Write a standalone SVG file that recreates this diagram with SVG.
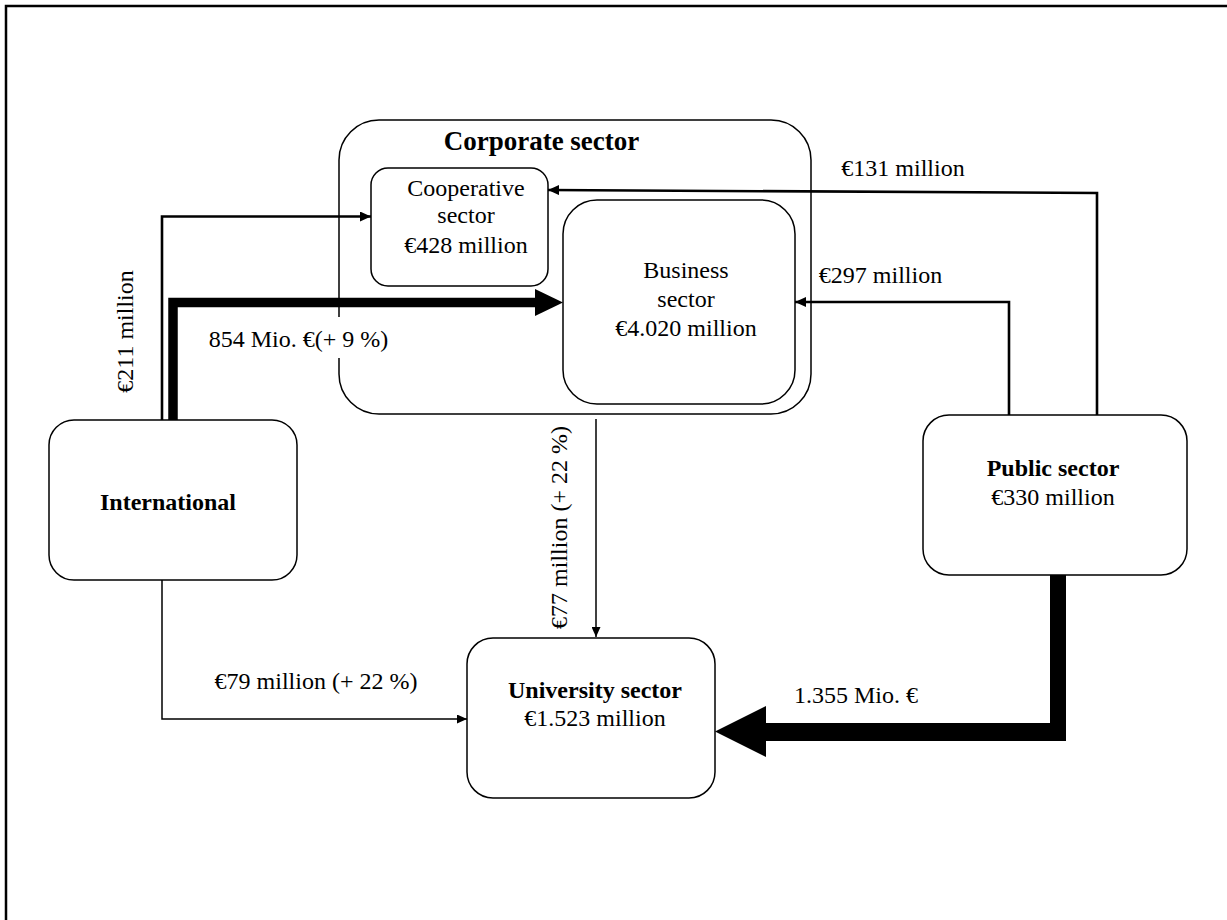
<svg xmlns="http://www.w3.org/2000/svg" width="1227" height="920" viewBox="0 0 1227 920">
<style>
.box{fill:#fff;stroke:#000;stroke-width:1.5}
.t{font-family:"Liberation Serif","Times New Roman",serif;font-size:24px;fill:#000}
.b{font-weight:bold}
.mid{text-anchor:middle}
.thin{fill:none;stroke:#000;stroke-width:1.5}
.med{fill:none;stroke:#000;stroke-width:2.6}
</style>
<defs>
<marker id="ahS" viewBox="0 0 10 10" refX="10" refY="5" markerWidth="10" markerHeight="9" markerUnits="userSpaceOnUse" orient="auto" preserveAspectRatio="none"><path d="M0,0 L10,5 L0,10 z" fill="#000"/></marker>
<marker id="ahM" viewBox="0 0 10 10" refX="10" refY="5" markerWidth="11" markerHeight="10" markerUnits="userSpaceOnUse" orient="auto" preserveAspectRatio="none"><path d="M0,0 L10,5 L0,10 z" fill="#000"/></marker>
</defs>
<rect x="0" y="0" width="1227" height="920" fill="#fff"/>
<rect x="6" y="6" width="1300" height="1000" fill="none" stroke="#000" stroke-width="2.5"/>

<g id="corporate">
<rect class="box" x="339" y="120" width="472" height="294" rx="40"/>
<text class="t b mid" x="541.5" y="150" style="font-size:27px">Corporate sector</text>
</g>
<g id="cooperative">
<rect class="box" x="371" y="168" width="177" height="118" rx="17"/>
<text class="t mid" x="466" y="196">Cooperative</text>
<text class="t mid" x="466" y="223">sector</text>
<text class="t mid" x="466" y="253">€428 million</text>
</g>
<g id="business">
<rect class="box" x="563" y="200" width="232" height="204" rx="34"/>
<text class="t mid" x="686" y="278">Business</text>
<text class="t mid" x="686" y="307">sector</text>
<text class="t mid" x="686" y="336">€4.020 million</text>
</g>
<g id="international">
<rect class="box" x="49" y="420" width="248" height="160" rx="25"/>
<text class="t b mid" x="168" y="510">International</text>
</g>
<g id="public">
<rect class="box" x="923" y="415" width="264" height="160" rx="26"/>
<text class="t b mid" x="1053" y="476">Public sector</text>
<text class="t mid" x="1053" y="505">€330 million</text>
</g>
<g id="university">
<rect class="box" x="467" y="638" width="248" height="160" rx="26"/>
<text class="t b mid" x="595" y="698">University sector</text>
<text class="t mid" x="595" y="726">€1.523 million</text>
</g>

<g id="connectors">
<path class="med" d="M162,420 V216.5 H371" marker-end="url(#ahM)"/>
<text class="t mid" transform="translate(133,331.5) rotate(-90)" x="0" y="0">€211 million</text>

<path d="M173,420 V302.5 H536" fill="none" stroke="#000" stroke-width="9.5"/>
<polygon points="535,289 563,302.5 535,316" fill="#000"/>
<rect x="200" y="317" width="196" height="41" fill="#fff"/>
<text class="t mid" x="298.5" y="347">854 Mio. €(+ 9 %)</text>

<path class="med" d="M1097,415 V193 L548,190" marker-end="url(#ahM)"/>
<text class="t mid" x="903" y="176">€131 million</text>

<path class="med" d="M1009,415 V302 H795" marker-end="url(#ahM)"/>
<text class="t mid" x="880.5" y="283">€297 million</text>

<path class="thin" d="M596,419 V637" marker-end="url(#ahS)"/>
<text class="t mid" transform="translate(567,527.5) rotate(-90)" x="0" y="0">€77 million (+ 22 %)</text>

<path class="thin" d="M162,580 V719 H467" marker-end="url(#ahS)"/>
<text class="t mid" x="316" y="689">€79 million (+ 22 %)</text>

<path d="M1050,575 H1066 V741 H760 V723 H1050 Z" fill="#000"/>
<polygon points="766,706 715,731.5 766,757" fill="#000"/>
<text class="t mid" x="856" y="703">1.355 Mio. €</text>
</g>
</svg>
